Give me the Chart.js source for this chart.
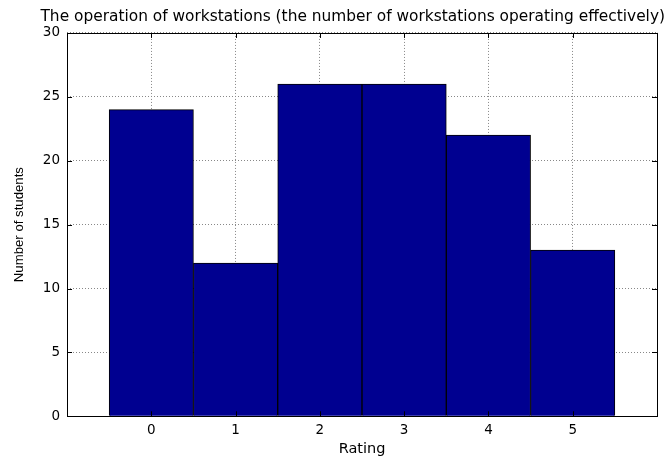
<!DOCTYPE html>
<html>
<head>
<meta charset="utf-8">
<script src="https://cdn.jsdelivr.net/npm/chart.js@4"></script>
<style>
html,body{margin:0;padding:0;background:#fff}
#wrap{width:668px;height:460px}
</style>
</head>
<body>
<div id="wrap"><canvas id="c" width="668" height="460"></canvas></div>
<script>
// data
const ratings = [0, 1, 2, 3, 4, 5]
const students = [24, 12, 26, 26, 22, 13]
const yTicks = [0, 5, 10, 15, 20, 25, 30]

const tickFont = {family: "DejaVu Sans", size: 13.5}

// box round the plot + small inward ticks, matlab style
const boxPlugin = {
  id: "box",
  afterDraw(chart){
    const a = chart.chartArea
    const ctx = chart.ctx
    const xs = chart.scales.x, ys = chart.scales.y
    ctx.save()
    ctx.strokeStyle = "#000"
    ctx.lineWidth = 1
    ctx.strokeRect(Math.round(a.left)+0.5, Math.round(a.top)+0.5, Math.round(a.right-a.left), Math.round(a.bottom-a.top))
    ctx.beginPath()
    for(let v=-1; v<=6; v++){
      const x = Math.round(xs.getPixelForValue(v))+0.5
      ctx.moveTo(x, a.bottom); ctx.lineTo(x, a.bottom-5)
      ctx.moveTo(x, a.top); ctx.lineTo(x, a.top+5)
    }
    yTicks.forEach(v=>{
      const y = Math.round(ys.getPixelForValue(v))+0.5
      ctx.moveTo(a.left, y); ctx.lineTo(a.left+5, y)
      ctx.moveTo(a.right, y); ctx.lineTo(a.right-5, y)
    })
    ctx.stroke()
    ctx.restore()
  }
}

new Chart(document.getElementById("c"),{
  type:"bar",
  data:{
    datasets:[{
      data: ratings.map((r,i)=>({x:r, y:students[i]})),
      backgroundColor:"#000090",
      borderColor:"#000",
      borderWidth:1,
      barPercentage:1,
      categoryPercentage:1
    }]
  },
  options:{
    responsive:false,
    animation:false,
    layout:{padding:{top:6, right:3, bottom:0, left:11}},
    plugins:{
      legend:{display:false},
      tooltip:{enabled:false},
      title:{
        display:true,
        align:"end",
        text:"The operation of workstations (the number of workstations operating effectively)",
        color:"#000",
        font:{family:"DejaVu Sans", size:15.4, weight:"normal", lineHeight:1.1},
        padding:{top:3, bottom:7}
      }
    },
    scales:{
      x:{
        type:"linear",
        min:-1, max:6,
        offset:false,
        ticks:{
          stepSize:1,
          color:"#000",
          font:tickFont,
          padding:6,
          callback:v=>(v>=0 && v<=5) ? String(v) : ""
        },
        grid:{color:"#888", offset:false, drawTicks:false, tickLength:0},
        border:{display:false, dash:[1,2]},
        title:{display:true, text:"Rating", color:"#000", font:{family:"DejaVu Sans", size:14.5, lineHeight:1}, padding:{top:-3, bottom:4}}
      },
      y:{
        min:0, max:30,
        ticks:{stepSize:5, color:"#000", font:tickFont, padding:7},
        grid:{color:"#888", drawTicks:false, tickLength:0},
        border:{display:false, dash:[1,2]},
        title:{display:true, text:"Number of students", color:"#000", font:{family:"Liberation Sans", size:13.2}, padding:{top:0, bottom:9}}
      },
      // empty right axis, only keeps a margin so the title can run past the plot
      y2:{
        position:"right",
        display:true,
        ticks:{display:false},
        grid:{drawOnChartArea:false, drawTicks:false},
        border:{display:false},
        afterFit(s){ s.width = 8 }
      }
    }
  },
  plugins:[boxPlugin]
})
</script>
</body>
</html>
